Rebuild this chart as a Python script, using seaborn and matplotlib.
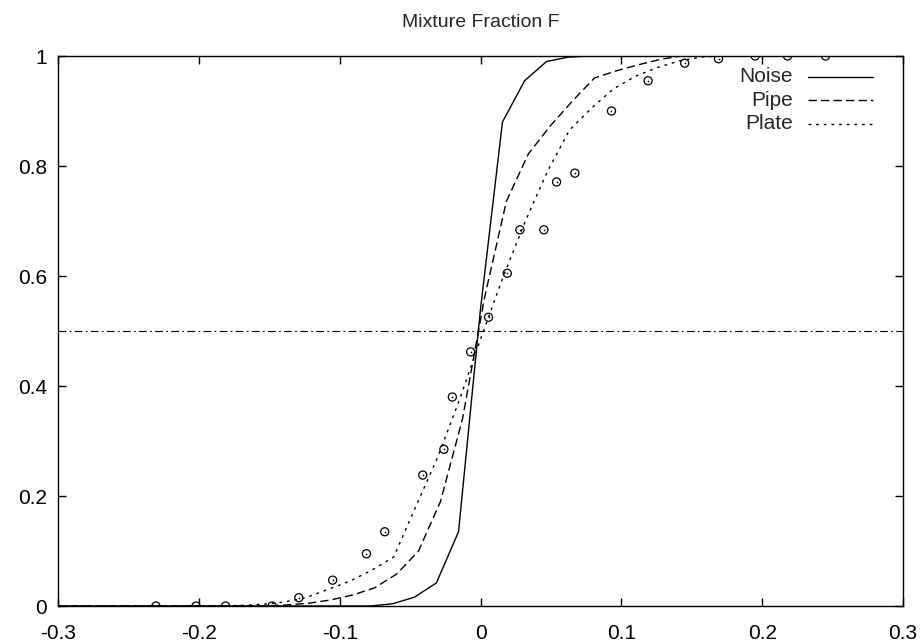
import numpy as np
import pandas as pd
import matplotlib
matplotlib.use("Agg")
import matplotlib.pyplot as plt
import seaborn as sns

# ---- data ----
title = "Mixture Fraction F"
x_ticks = [-0.3, -0.2, -0.1, 0.0, 0.1, 0.2, 0.3]
x_tick_labels = ["-0.3", "-0.2", "-0.1", "0", "0.1", "0.2", "0.3"]
y_ticks = [0, 0.2, 0.4, 0.6, 0.8, 1.0]
y_tick_labels = ["0", "0.2", "0.4", "0.6", "0.8", "1"]
threshold = 0.5
series_names = ["Noise", "Pipe", "Plate"]

noise_x = [-0.3, -0.0781, -0.0625, -0.0469, -0.0313, -0.0156, 0.0, 0.0156,
           0.0313, 0.0469, 0.0625, 0.0781, 0.3]
noise_y = [0.0, 0.0, 0.004, 0.016, 0.042, 0.135, 0.54, 0.88,
           0.955, 0.99, 0.998, 1.0, 1.0]

pipe_x = [-0.3, -0.1532, -0.1376, -0.122, -0.1064, -0.0908, -0.0752, -0.0596,
          -0.044, -0.0284, -0.0128, 0.0028, 0.0184, 0.034, 0.0496, 0.0652,
          0.0809, 0.0965, 0.112, 0.128, 0.143, 0.3]
pipe_y = [0.0, 0.0, 0.002, 0.005, 0.011, 0.02, 0.033, 0.058,
          0.10, 0.19, 0.34, 0.56, 0.736, 0.822, 0.873, 0.918,
          0.96, 0.973, 0.984, 0.994, 1.0, 1.0]

plate_x = [-0.3, -0.1865, -0.1709, -0.1553, -0.1397, -0.1241, -0.1085, -0.0929,
           -0.0773, -0.0617, -0.0461, -0.0305, -0.0149, 0.0007, 0.0163, 0.0319,
           0.0475, 0.0631, 0.0787, 0.0943, 0.1099, 0.1255, 0.1411, 0.1567,
           0.1723, 0.3]
plate_y = [0.0, 0.0, 0.001, 0.003, 0.007, 0.015, 0.03, 0.045,
           0.065, 0.089, 0.18, 0.27, 0.375, 0.49, 0.60, 0.70,
           0.79, 0.865, 0.905, 0.94, 0.963, 0.979, 0.991, 0.998,
           1.0, 1.0]

exp_x = [-0.2305, -0.202, -0.181, -0.148, -0.129, -0.105, -0.081, -0.068,
         -0.041, -0.026, -0.020, -0.007, 0.0057, 0.019, 0.028, 0.045,
         0.054, 0.067, 0.093, 0.119, 0.145, 0.169, 0.195, 0.218, 0.245]
exp_y = [0.0, 0.0, 0.0, 0.0, 0.015, 0.047, 0.095, 0.135,
         0.238, 0.285, 0.38, 0.462, 0.525, 0.605, 0.684, 0.684,
         0.771, 0.787, 0.90, 0.955, 0.987, 0.995, 1.0, 1.0, 1.0]

# ---- styling ----
sns.set_style("ticks")
plt.rcParams["font.family"] = ["Liberation Sans", "DejaVu Sans"]
plt.rcParams["font.size"] = 15

fig = plt.figure(figsize=(9.21, 6.44), dpi=100)
ax = fig.add_axes([58 / 921, 38 / 644, (903 - 58) / 921, (606 - 56) / 644])

lw = 1.0
styles = ["-", (0, (6, 3)), (0, (2, 3.5))]
curves = [(noise_x, noise_y), (pipe_x, pipe_y), (plate_x, plate_y)]
for (cx, cy), ls, name in zip(curves, styles, series_names):
    sns.lineplot(x=cx, y=cy, ax=ax, color="black", linewidth=lw,
                 linestyle=ls, estimator=None, sort=False, legend=False)

ax.axhline(threshold, color="black", linewidth=0.8,
           linestyle=(0, (7, 3, 1.5, 3)), zorder=1)

sns.scatterplot(x=exp_x, y=exp_y, ax=ax, marker="o", s=34,
                facecolors="none", edgecolors="black", linewidths=0.9,
                zorder=3, legend=False)
sns.scatterplot(x=exp_x, y=exp_y, ax=ax, marker="o", s=1.5,
                color="black", linewidth=0, zorder=3, legend=False)

ax.set_xlim(-0.3, 0.3)
ax.set_ylim(0, 1)
ax.set_xticks(x_ticks)
ax.set_xticklabels(x_tick_labels)
ax.set_yticks(y_ticks)
ax.set_yticklabels(y_tick_labels)
ax.set_xlabel("")
ax.set_ylabel("")
ax.tick_params(direction="in", length=6, width=1, top=True, right=True,
               labelsize=15, colors="black")
ax.tick_params(axis="x", pad=13)
ax.tick_params(axis="y", pad=8)
for s in ax.spines.values():
    s.set_visible(True)
    s.set_linewidth(1.0)
    s.set_color("black")

ax.set_title(title, fontsize=14, pad=21)

# gnuplot-style key: right-aligned labels followed by line samples
key_text_x = 0.870
key_line_x = (0.888, 0.9645)
key_rows = [0.962, 0.9195, 0.877]
for name, ls, ky in zip(series_names, styles, key_rows):
    ax.text(key_text_x, ky, name, transform=ax.transAxes, ha="right",
            va="center", fontsize=15)
    ax.plot(key_line_x, (ky, ky), transform=ax.transAxes, color="black",
            linewidth=lw, linestyle=ls, clip_on=False)

fig.savefig("out.png", dpi=100)
